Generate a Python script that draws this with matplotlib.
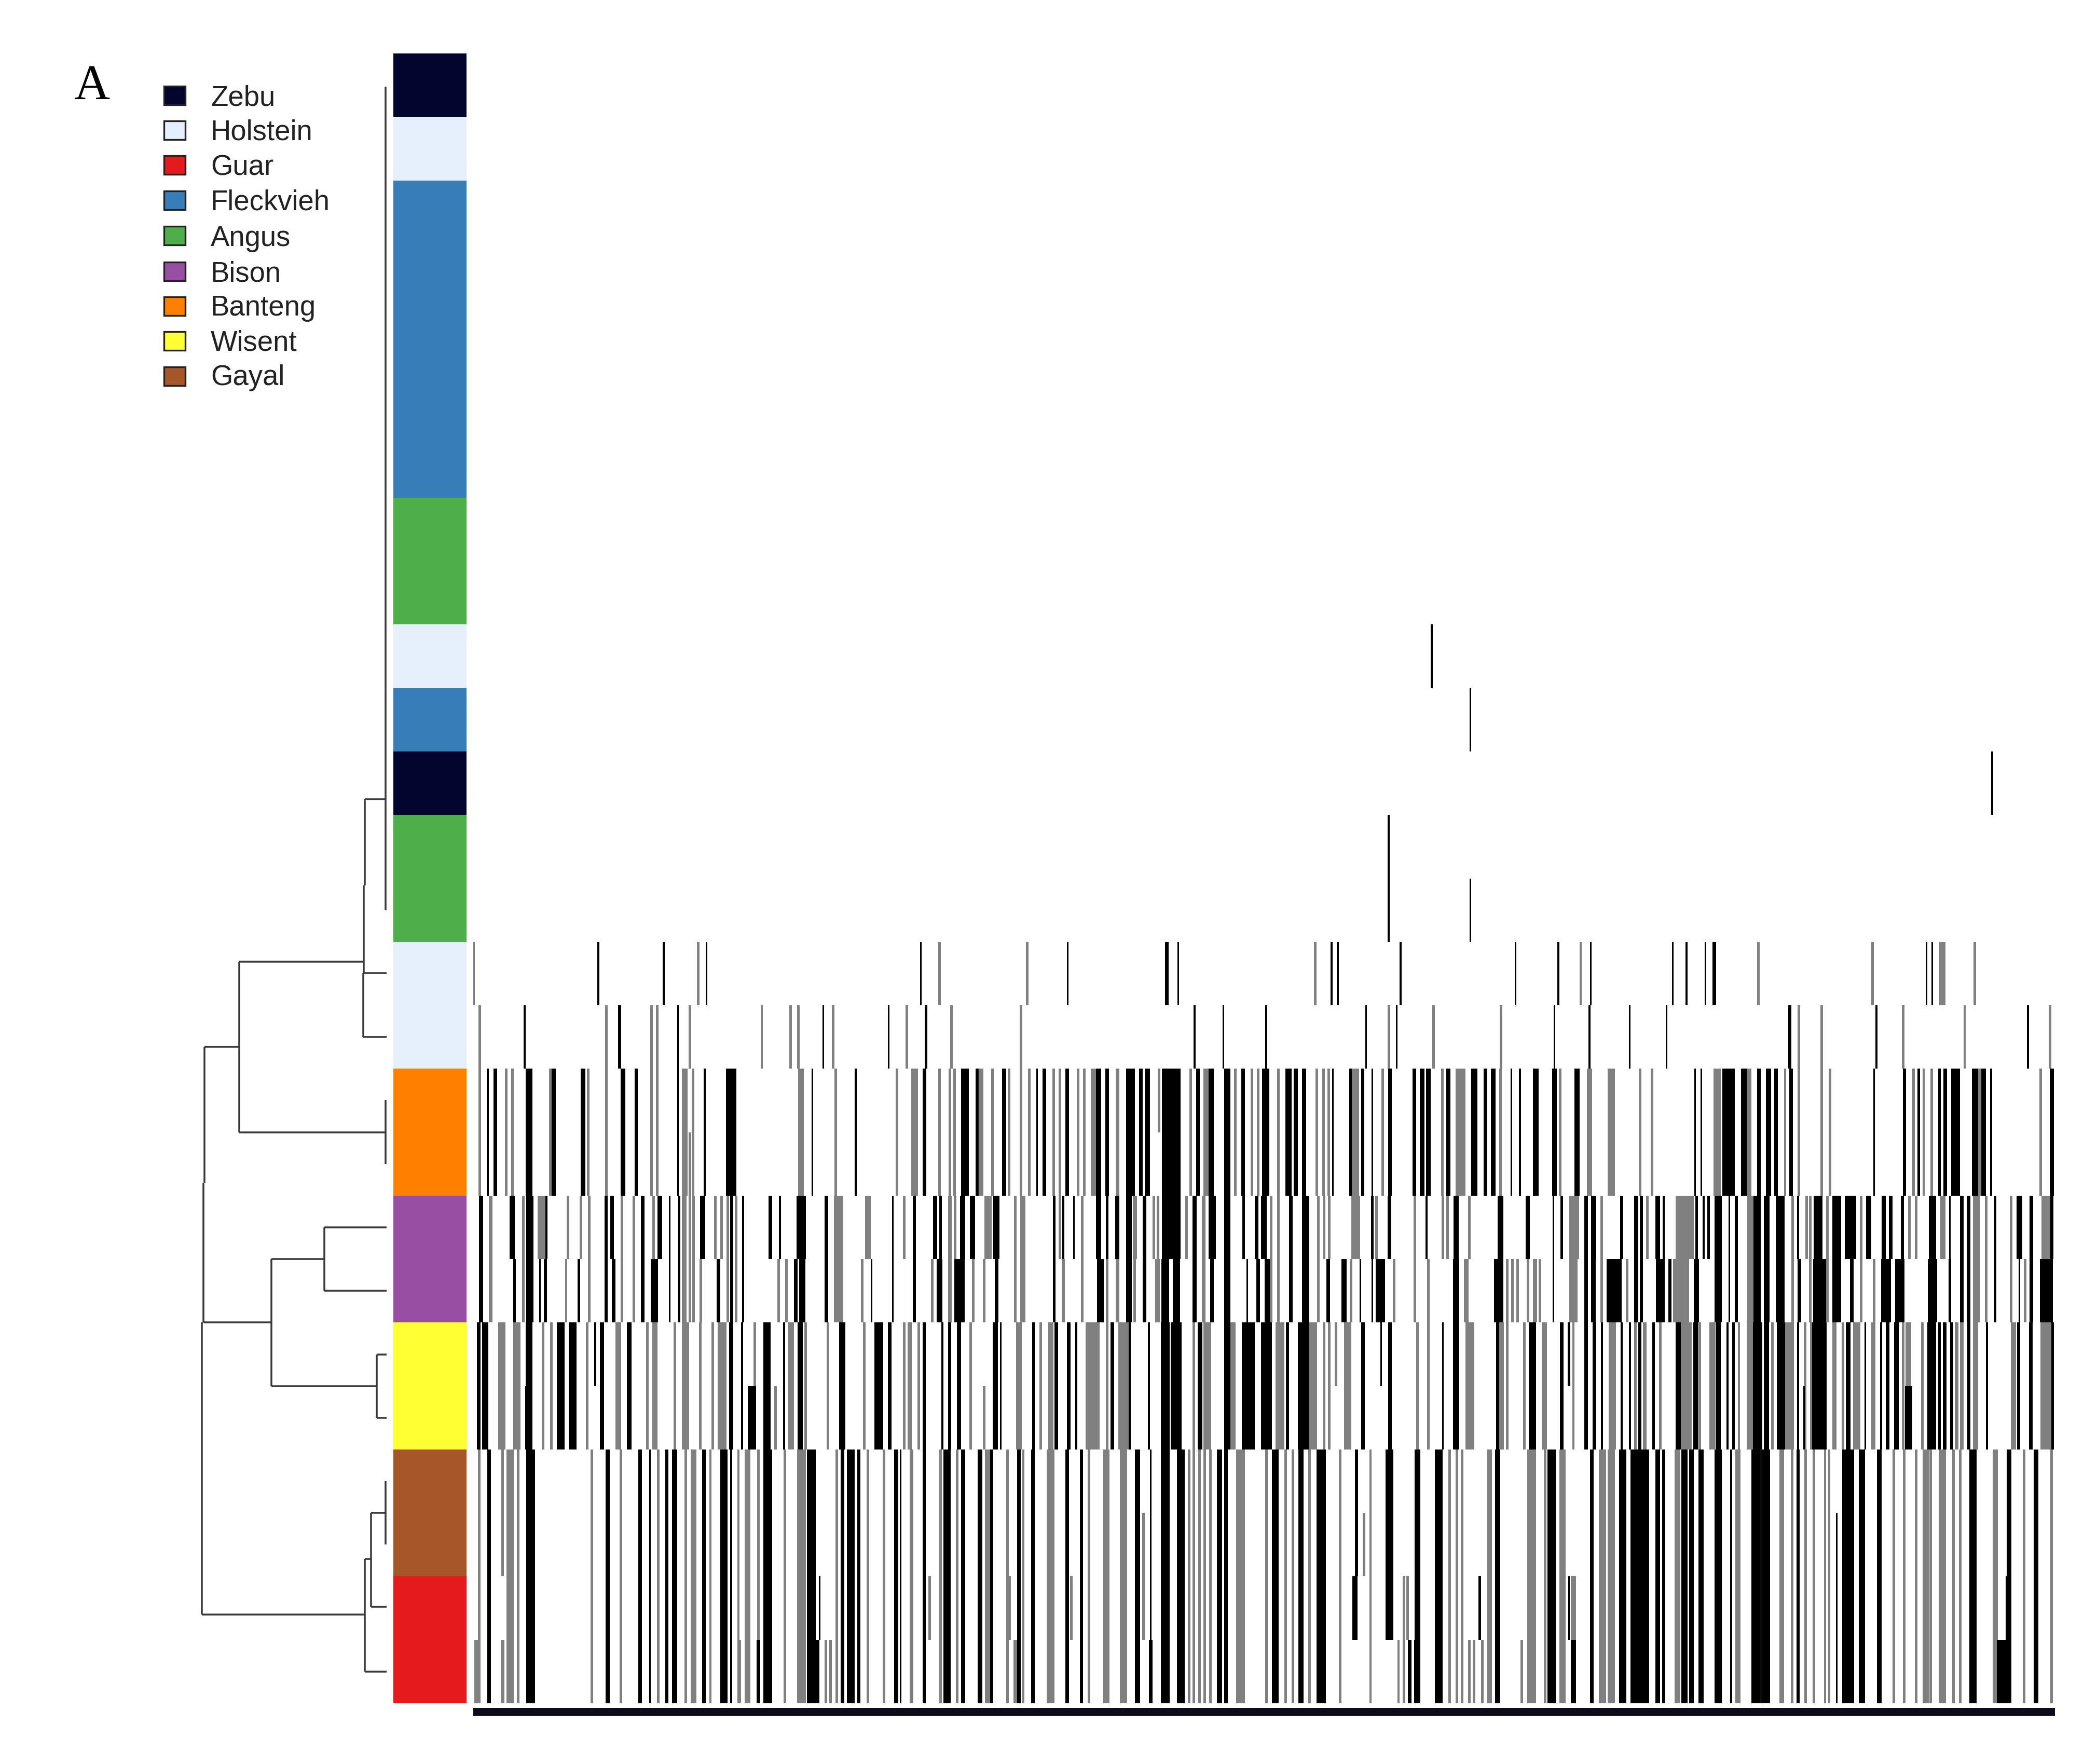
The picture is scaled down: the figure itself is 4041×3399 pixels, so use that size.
import matplotlib
matplotlib.use("Agg")
import matplotlib.pyplot as plt
from matplotlib.patches import Rectangle

W, H = 4041, 3399
DPI = 300

# breeds, legend order
legend_names = ["Zebu", "Holstein", "Guar", "Fleckvieh", "Angus", "Bison", "Banteng", "Wisent", "Gayal"]
legend_colors = ["#03052f", "#e6effc", "#e41a1c", "#377eb8", "#4daf4a", "#984ea3", "#ff7f00", "#ffff33", "#a65628"]

# sample side bar, top to bottom: breed and number of rows
side_breeds = ["Zebu", "Holstein", "Fleckvieh", "Angus", "Holstein", "Fleckvieh", "Zebu", "Angus",
               "Holstein", "Banteng", "Bison", "Wisent", "Gayal", "Guar"]
side_counts = [1, 1, 5, 2, 1, 1, 1, 2, 2, 2, 2, 2, 2, 2]

# dendrogram: heights and row positions
dend_v_height = [2, 42, 44, 45, 284, 351, 353, 356, 222, 120, 19, 42, 30, 2, 2]
dend_v_top = [0.52, 11.75, 13.11, 14.49, 14.31, 15.65, 17.8, 20.0, 19.0, 18.5, 20.5, 23.73, 23.0, 22.5, 16.5]
dend_v_bot = [13.5, 13.11, 14.49, 15.5, 17.0, 17.8, 20.0, 24.6, 21.0, 19.5, 21.5, 25.5, 24.48, 23.5, 17.5]
dend_h_row = [11.75, 14.49, 15.5, 14.31, 17.0, 15.65, 20.0, 24.6, 19.0, 21.0, 18.5, 19.5, 20.5, 21.5, 23.73, 25.5, 23.0, 24.48]
dend_h_from = [2, 0, 0, 45, 2, 284, 222, 42, 120, 19, 0, 0, 0, 0, 30, 0, 2, 0]
dend_h_to = [42, 44, 45, 284, 284, 351, 353, 356, 222, 222, 120, 120, 19, 19, 42, 42, 30, 30]

# heatmap marker positions, read in three stretches (left, mid, right)
# plain number = thin line, (pos, width) = wider block
angus_b = ([], [963, 1187], [])
holstein9_b = ([], [1081], [])
fleck10_b = ([], [1187], [])
zebu11_b = ([], [], [1263])
angus12_b = ([], [963], [])

holstein14_b = ([360, 540, 657, 1246], [82, (354, 9), 385, 806, 823, 996, 1311, 1429, 1518],
                [336, 376, 431, (457, 10), 1072, 1089])
holstein14_g = ([18, 634, 1297, 1538], [761, 1490], [584, 916, (1118, 18), 1213])
holstein15_b = ([158, (419, 8), 579, 978, 1157, (1260, 7)], [430, 509, 627, 901, 985, 1418, 1514],
                [211, 318, (676, 8), 927, 1367])
holstein15_g = ([35, 383, 506, 522, 612, 809, 888, 910, 1005, 1207, 1330, 1520], [963, 1086, 1271],
                [702, 768, 1005, 1183, 1431])

banteng_b = ([57, (78, 10), (170, 18), (238, 12), (318, 12), (428, 14), (464, 8), 579, 652, (725, 28), 948, 1067,
              (1255, 10), (1367, 22), (1400, 8), (1474, 12), 1565],
             [(18, 10), (80, 10), (167, 14), (190, 10), (254, 24), (282, 10), (301, 14), (366, 52), (440, 10), (476, 14),
              (520, 16), (563, 10), (625, 20), (688, 16), (708, 12), (731, 12), 810, (858, 8), (892, 8), 918, (966, 10),
              (1033, 10), (1055, 12), (1072, 12), (1127, 12), (1198, 16), (1228, 10), (1250, 14), 1300, 1323, (1367, 16),
              (1418, 14), (1480, 14)],
             [401, 419, (498, 35), (543, 16), (586, 10), (614, 14), (636, 10), (680, 10), 920, (1008, 8), (1050, 8),
              (1110, 8), (1127, 10), (1157, 24), (1213, 18), (1238, 12), 1260, (1436, 10)])
banteng_g = ([35, 107, 124, 228, 332, 383, 506, 522, (598, 16), 620, (917, 16), 1012, 1180, (1229, 18), 1297, 1325, 1338,
              (1412, 12), 1442, 1488, 1520, 1543],
             [43, 60, 110, 128, (153, 16), (218, 10), 420, (462, 14), 542, 587, 605, 660, 765, 784, 798, 946,
              (872, 20), 1110, (1160, 28), 1270, 1434, 1510, 1518],
             [(157, 20), 241, 276, (465, 20), (558, 12), 662, 702, 768, 792, 1035, 1064, 1088, (1226, 8), 1403])
banteng16_g = ([], [332], [])
banteng17_g = ([612], [], [])

bison18_b = ([(38, 12), (124, 14), (172, 20), (218, 6), (382, 8), (398, 10), (482, 10), (529, 12), 556, (582, 6), (647, 14),
              (726, 8), 758, (833, 10), 859, (917, 26), (986, 10), 1169, (1228, 8), (1285, 12), (1300, 8), (1360, 14),
              (1387, 14), (1453, 16)],
             [(45, 8), (70, 6), 99, (166, 14), (190, 8), (218, 12), (250, 16), (292, 10), (366, 52), (430, 12), (478, 20),
              (520, 16), (565, 8), (600, 10), (620, 16), (694, 10), (735, 20), (918, 8), (965, 10), 1067, (1148, 14),
              (1270, 16), (1345, 12), 1415, (1438, 8), (1505, 10), (1525, 14)],
             [(188, 8), (230, 12), (245, 8), (292, 12), (310, 6), (405, 8), (425, 6), (440, 8), (468, 20), 500, (520, 8),
              (580, 20), (608, 16), (648, 24), 700, (757, 24), (812, 24), (852, 32), (905, 14), (948, 12), (968, 10),
              (1002, 8), (1090, 20), 1140, (1175, 10), (1195, 10), 1272, (1342, 16), (1376, 10), (1436, 8)])
bison18_g = ([(65, 10), 155, (205, 22), 277, 312, 335, 425, 458, 512, (596, 14), 612, 622, 681, 698, (716, 8), 738,
              (1020, 26), (1100, 16), 1200, (1325, 10), 1340, (1430, 20), 1505, (1525, 14)],
             [60, 122, (266, 12), 318, 330, 408, (455, 10), 640, 660, 770, 785, 800, (872, 24), 930, 1035, 1112, 1125, 1185,
              (1472, 28), 1548],
             [262, (370, 50), 684, 724, 735, 785, 882, 1022, 1042, (1120, 14), (1218, 20), 1245, 1318, (1420, 26), (565, 24)])
bison19_b = ([(38, 12), (130, 8), (172, 20), 200, (215, 8), (307, 8), (382, 8), (403, 10), (482, 10), (514, 20), 556, (582, 6),
              (690, 10), (726, 8), 758, (903, 10), (920, 16), (986, 10), 1110, 1169, (1228, 8), (1297, 16), (1352, 28),
              (1453, 10)],
             [(45, 8), (172, 18), (250, 16), (292, 10), (350, 22), (380, 20), (430, 12), (478, 10), (520, 16), 575, (605, 10),
              (630, 14), (694, 10), (735, 20), (797, 10), (840, 14), 885, 918, (940, 26), (1148, 18), (1265, 26), 1415,
              (1505, 10), (1525, 12)],
             [(166, 42), (230, 12), (245, 8), (300, 24), (328, 8), (405, 14), (468, 20), 500, (520, 8), (580, 20), (608, 16),
              (648, 24), (704, 10), (762, 36), (812, 24), (855, 10), (955, 26), (995, 26), (1090, 26), (1140, 8), (1175, 10),
              (1195, 10), 1272, 1342, (1376, 10), (1420, 36)])
bison19_g = ([(65, 10), 155, 272, 335, 425, 458, (596, 14), 612, 622, 642, (716, 8), 738, 855, 877, (1020, 26), 1085, 1277,
              (1325, 10), 1390, 1420, 1505, (1525, 14)],
             [(70, 8), 122, 190, (218, 10), 266, (328, 12), (455, 10), 640, 660, 770, 860, 978, 1035, 1072, (1176, 12), 1288,
              1303, 1317, 1345, (1365, 12), 1378, (1470, 24), 1548],
             [204, (360, 45), (565, 24), 684, 735, 785, 882, 920, 1245, 1318, 1358, (1218, 20)])

wisent_b = ([(32, 10), (50, 18), (170, 18), (257, 22), (290, 22), (370, 12), (445, 14), (725, 12), 755, (823, 20), 870,
             (915, 14), (1030, 16), (1130, 24), (1160, 10), (1255, 8), 1305, (1325, 8), (1350, 12), (1450, 14), 1465, (1555, 8)],
            [(50, 10), (85, 10), 105, (205, 10), (252, 6), 305, (350, 24), (380, 30), (445, 14), (520, 16), (578, 36), (628, 30),
             (685, 8), (720, 14), (735, 20), (892, 10), (966, 10), 1112, (1148, 16), (1262, 8), (1358, 20), (1438, 10), (1505, 10),
             (1528, 10), (1548, 6)],
            [(188, 6), 212, (240, 8), (280, 8), (352, 14), (403, 14), (468, 14), 495, (512, 8), (582, 26), (608, 14), (650, 22),
             (700, 6), (762, 40), (845, 14), 895, (940, 6), (960, 10), (985, 14), (1088, 24), (1110, 8), (1125, 10), (1145, 8),
             (1195, 8), 1248, (1340, 8), (1375, 10), (1438, 8)])
wisent_g = ([(95, 20), 130, (140, 14), 208, 232, 330, (415, 16), 495, (515, 14), 570, (600, 20), 640, 675, (700, 24), 790, (890, 16),
             930, 990, 1090, 1200, (1215, 12), 1240, 1382, (1515, 16)],
            [8, (35, 14), (150, 38), 190, (235, 28), 428, (465, 22), (535, 14), (665, 24), (755, 24), 785, 800, (850, 20),
             1042, 1072, (1186, 24), (1270, 18), 1288, 1335, (1390, 14), 1470],
            [(160, 20), 228, (255, 10), 300, (375, 30), 415, (450, 16), 528, (560, 18), 625, (672, 30), 720, 738, (805, 12), 830,
             (870, 20), (918, 12), 1005, (1020, 16), 1060, (1160, 10), (1175, 10), (1215, 14), (1325, 14), (1418, 30)])
wisent20_b = ([352], [942, (1458, 8)], [])
wisent20_g = ([], [818], [])
wisent21_b = ([(163, 8), (782, 22)], [], [717, (1020, 20)])
wisent21_g = ([847, 1420], [], [])

gayal_b = ([(60, 10), (175, 24), (386, 12), (475, 10), 502, (548, 8), (570, 14), (650, 10), (705, 20), 725, (825, 24), (945, 25),
            (1030, 10), (1053, 22), (1075, 8), (1178, 10), 1190, (1255, 8), (1318, 20), (1362, 12), (1408, 12), (1440, 8),
            (1515, 10), (1553, 10)],
           [(80, 10), (120, 8), (273, 14), 310, (350, 24), (392, 22), (498, 14), (516, 10), (652, 18), (722, 14), (778, 26),
            (1042, 16), (1100, 22), (1262, 14), (1410, 22), (1520, 10)],
           [(190, 20), (240, 52), (292, 12), (310, 8), (370, 16), (390, 12), (418, 14), (468, 20), 505, (578, 26), (605, 24), (700, 8),
            (845, 34), (885, 18), (935, 12), (1207, 20), (1312, 12), (1390, 14)])
gayal_g = ([33, (118, 20), 140, 343, 422, 525, 600, (622, 16), 668, 745, (770, 16), 800, 872, (918, 24), 1015, 1100, 1145, (1220, 10),
            1300, 1345, (1430, 16), 1483, 1527],
           [(35, 22), 140, (188, 16), (235, 20), 415, 428, 443, 458, 473, (556, 24), 628, 680, 700, 745, 830, 913, 1130, 1150, 1165, (1240, 12),
            (1355, 24), 1392, (1440, 16), (1550, 20)],
           [(158, 20), (350, 16), (525, 14), (652, 12), 682, 722, 745, 778, 790, 978, 1008, 1042, (1070, 16), 1085, (1118, 20), 1150, 1170,
            (1272, 14), 1355, 1435])
gayal22_23_b = ([], [(875, 8), (965, 22)], [])
gayal22_23_g = ([97], [], [])
gayal23_g = ([], [290, 895], [])
gayal23_b = ([], [], [812])
guar24_b = ([968], [(870, 14), (965, 22), (1213, 8), 1458], [812, 1305])
guar24_g = ([1270, 1490], [92, 290, 1005, 1015, (1470, 14)], [])
guar25_b = ([575, (800, 10), (962, 10)], [(310, 10), (1020, 10), (1040, 16), (1470, 14)], [(1295, 35), 812])
guar25_g = ([(25, 10), (97, 10), 748, 985, 998, (1505, 10)], [990, 1005, 1185, 1197, 1220, 1328], [])

# rows, black lines, gray lines
bands = [([13], angus_b, None), ([9], holstein9_b, None), ([10], fleck10_b, None), ([11], zebu11_b, None), ([12], angus12_b, None),
         ([14], holstein14_b, holstein14_g), ([15], holstein15_b, holstein15_g),
         ([16, 17], banteng_b, banteng_g), ([16], ([], [], []), banteng16_g), ([17], ([], [], []), banteng17_g),
         ([18], bison18_b, bison18_g), ([19], bison19_b, bison19_g),
         ([20, 21], wisent_b, wisent_g), ([20], wisent20_b, wisent20_g), ([21], wisent21_b, wisent21_g),
         ([22, 23, 24, 25], gayal_b, gayal_g), ([22, 23], gayal22_23_b, gayal22_23_g), ([23], gayal23_b, gayal23_g),
         ([24], guar24_b, guar24_g), ([25], guar25_b, guar25_g)]

N_POS = 4342

# legend
leg_box_y = [184, 251, 318, 386, 454, 523, 590, 657, 725]
leg_text_y = [203, 269, 337, 404, 474, 542, 608, 675, 742]


def to_spans(stretches, thin):
    # stretches were read at different zooms, bring them onto one marker axis
    spans = []
    shifts = [(1.0, -17), (1.0, 1550), (0.946, 2975)]
    for items, (scale, shift) in zip(stretches, shifts):
        for it in items:
            pos, w = it if isinstance(it, tuple) else (it, thin)
            spans.append((pos * scale + shift - w / 2, w))
    return spans


def px_axes(x0, y0, x1, y1):
    a = plt.gcf().add_axes([x0 / W, 1 - y1 / H, (x1 - x0) / W, (y1 - y0) / H])
    return a


plt.rcParams["font.family"] = ["Liberation Sans", "DejaVu Sans"]
fig = plt.figure(figsize=(W / DPI, H / DPI), dpi=DPI, facecolor="white")

TOP, BOTTOM = 103, 3282

# heatmap
ax = px_axes(912, TOP, 3960, BOTTOM)
for rows, black, gray in bands:
    for r in rows:
        if gray is not None:
            ax.broken_barh(to_spans(gray, 7), (r, 1), facecolors="#808080", linewidth=0)
        ax.broken_barh(to_spans(black, 5), (r, 1), facecolors="black", linewidth=0)
ax.set_xlim(0, N_POS)
ax.set_ylim(26, 0)
ax.axis("off")

# side colour bar
ax_side = px_axes(758, TOP, 899, BOTTOM)
color_of = dict(zip(legend_names, legend_colors))
row = 0
for breed, n in zip(side_breeds, side_counts):
    ax_side.bar(0.5, n, width=1, bottom=row, color=color_of[breed], linewidth=0)
    row += n
ax_side.set_xlim(0, 1)
ax_side.set_ylim(26, 0)
ax_side.axis("off")

# dendrogram
ax_d = px_axes(380, TOP, 745, BOTTOM)
ax_d.vlines(dend_v_height, dend_v_top, dend_v_bot, color="#3a3a3a", lw=0.85)
ax_d.hlines(dend_h_row, dend_h_from, dend_h_to, color="#3a3a3a", lw=0.85)
ax_d.set_xlim(365, 0)
ax_d.set_ylim(26, 0)
ax_d.axis("off")

# marker strip under the heatmap
ax_rug = px_axes(912, 3291, 3960, 3306)
ax_rug.set_facecolor("#0b0b1a")
ax_rug.set_xticks([])
ax_rug.set_yticks([])
for s in ax_rug.spines.values():
    s.set_visible(False)

ax_leg = fig.add_axes([0, 0, 1, 1], facecolor="none")
ax_leg.set_xlim(0, W)
ax_leg.set_ylim(H, 0)
ax_leg.axis("off")
for name, col, yb, yt in zip(legend_names, legend_colors, leg_box_y, leg_text_y):
    ax_leg.add_patch(Rectangle((316, yb - 18), 41, 36, facecolor=col, edgecolor="#222222", lw=0.8))
    ax_leg.text(406, yt, name, fontsize=13.1, va="baseline", ha="left", color="#222222")
ax_leg.text(142, 191, "A", family=["Liberation Serif"], fontsize=23, va="baseline", ha="left", color="black")

fig.savefig("out.png", dpi=DPI)
